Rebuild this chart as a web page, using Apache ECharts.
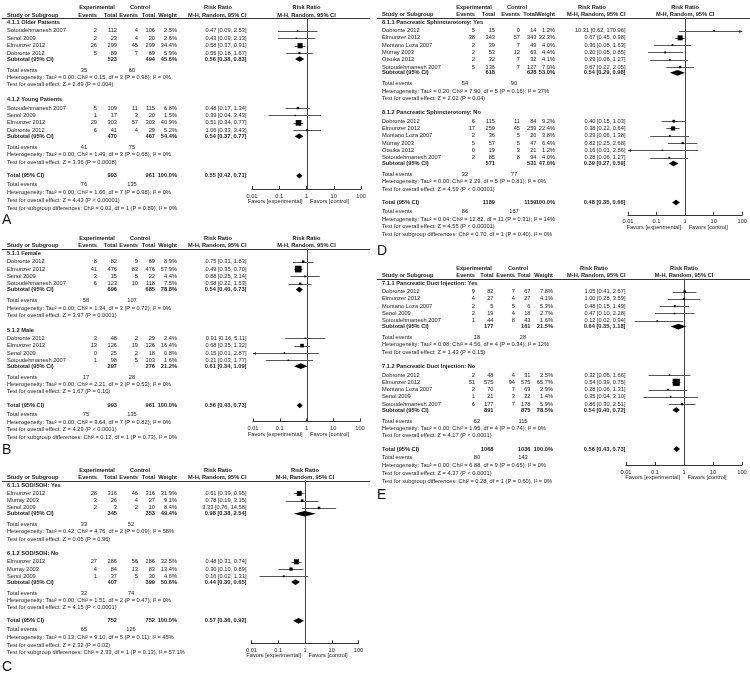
<!DOCTYPE html>
<html>
<head>
<meta charset="utf-8">
<script src="https://cdn.jsdelivr.net/npm/echarts@6.0.0/dist/echarts.min.js"></script>
<style>
  html, body { margin: 0; padding: 0; background: #fff; }
  #chart { width: 750px; height: 680px; }
</style>
</head>
<body>
<div id="chart"></div>
<script>
// study rows: name, exp events, exp total, ctl events, ctl total, weight %, RR, lower, upper
// subtotal: exp total, ctl total, weight %, RR, lower, upper

// ---- A: age ----
const olderRows = [
  ["Sotoudehmanesh 2007", 2, 112, 4, 106, 2.5, 0.47, 0.09, 2.53],
  ["Senol 2009", 2, 23, 4, 20, 2.6, 0.43, 0.09, 2.13],
  ["Elmunzer 2012", 26, 299, 45, 299, 34.4, 0.58, 0.37, 0.91],
  ["Dobronte 2012", 5, 89, 7, 69, 5.9, 0.55, 0.18, 1.67]
];
const olderSub = [523, 494, 45.6, 0.56, 0.38, 0.83];
const olderEvents = [35, 60];
const olderStats = ["Heterogeneity: Tau\u00b2 = 0.00; Chi\u00b2 = 0.15, df = 3 (P = 0.98); I\u00b2 = 0%", "Test for overall effect: Z = 2.89 (P = 0.004)"];
const youngRows = [
  ["Sotoudehmanesh 2007", 5, 109, 11, 115, 6.8, 0.48, 0.17, 1.34],
  ["Senol 2009", 1, 17, 3, 20, 1.5, 0.39, 0.04, 3.43],
  ["Elmunzer 2012", 29, 303, 57, 303, 40.9, 0.51, 0.34, 0.77],
  ["Dobronte 2012", 6, 41, 4, 29, 5.2, 1.06, 0.33, 3.43]
];
const youngSub = [470, 467, 54.4, 0.54, 0.37, 0.77];
const youngEvents = [41, 75];
const youngStats = ["Heterogeneity: Tau\u00b2 = 0.00; Chi\u00b2 = 1.49, df = 3 (P = 0.68); I\u00b2 = 0%", "Test for overall effect: Z = 3.36 (P = 0.0008)"];
const ageTotal = [993, 961, 100.0, 0.55, 0.42, 0.71];
const ageEvents = [76, 135];
const ageStats = ["Heterogeneity: Tau\u00b2 = 0.00; Chi\u00b2 = 1.66, df = 7 (P = 0.98); I\u00b2 = 0%", "Test for overall effect: Z = 4.43 (P < 0.00001)", "Test for subgroup differences: Chi\u00b2 = 0.02, df = 1 (P = 0.89), I\u00b2 = 0%"];

// ---- B: sex ----
const femaleRows = [
  ["Dobronte 2012", 8, 82, 9, 69, 8.9, 0.75, 0.31, 1.83],
  ["Elmunzer 2012", 41, 476, 83, 476, 57.9, 0.49, 0.35, 0.70],
  ["Senol 2009", 3, 15, 5, 22, 4.4, 0.88, 0.25, 3.14],
  ["Sotoudehmanesh 2007", 6, 123, 10, 118, 7.5, 0.58, 0.22, 1.53]
];
const femaleSub = [696, 685, 78.8, 0.54, 0.40, 0.73];
const femaleEvents = [58, 107];
const femaleStats = ["Heterogeneity: Tau\u00b2 = 0.00; Chi\u00b2 = 1.34, df = 3 (P = 0.72); I\u00b2 = 0%", "Test for overall effect: Z = 3.97 (P = 0.0001)"];
const maleRows = [
  ["Dobronte 2012", 3, 48, 2, 29, 2.4, 0.91, 0.16, 5.11],
  ["Elmunzer 2012", 13, 126, 19, 126, 16.4, 0.68, 0.35, 1.32],
  ["Senol 2009", 0, 25, 2, 18, 0.8, 0.15, 0.01, 2.87],
  ["Sotoudehmanesh 2007", 1, 98, 5, 103, 1.6, 0.21, 0.03, 1.77]
];
const maleSub = [297, 276, 21.2, 0.61, 0.34, 1.09];
const maleEvents = [17, 28];
const maleStats = ["Heterogeneity: Tau\u00b2 = 0.00; Chi\u00b2 = 2.21, df = 3 (P = 0.53); I\u00b2 = 0%", "Test for overall effect: Z = 1.67 (P = 0.10)"];
const sexTotal = [993, 961, 100.0, 0.56, 0.43, 0.73];
const sexEvents = [75, 135];
const sexStats = ["Heterogeneity: Tau\u00b2 = 0.00; Chi\u00b2 = 3.64, df = 7 (P = 0.82); I\u00b2 = 0%", "Test for overall effect: Z = 4.29 (P < 0.0001)", "Test for subgroup differences: Chi\u00b2 = 0.12, df = 1 (P = 0.73), I\u00b2 = 0%"];

// ---- C: SOD/SOH ----
const sodYesRows = [
  ["Elmunzer 2012", 28, 316, 46, 316, 31.9, 0.61, 0.39, 0.95],
  ["Murray 2003", 3, 26, 4, 27, 9.1, 0.78, 0.19, 3.15],
  ["Senol 2009", 2, 3, 2, 10, 8.4, 3.33, 0.76, 14.58]
];
const sodYesSub = [345, 353, 49.4, 0.98, 0.38, 2.54];
const sodYesEvents = [33, 52];
const sodYesStats = ["Heterogeneity: Tau\u00b2 = 0.42; Chi\u00b2 = 4.76, df = 2 (P = 0.09); I\u00b2 = 58%", "Test for overall effect: Z = 0.05 (P = 0.96)"];
const sodNoRows = [
  ["Elmunzer 2012", 27, 286, 56, 286, 32.5, 0.48, 0.31, 0.74],
  ["Murray 2003", 4, 84, 13, 83, 13.4, 0.30, 0.10, 0.89],
  ["Senol 2009", 1, 37, 5, 30, 4.6, 0.16, 0.02, 1.31]
];
const sodNoSub = [407, 399, 50.6, 0.44, 0.30, 0.65];
const sodNoEvents = [32, 74];
const sodNoStats = ["Heterogeneity: Tau\u00b2 = 0.00; Chi\u00b2 = 1.51, df = 2 (P = 0.47); I\u00b2 = 0%", "Test for overall effect: Z = 4.15 (P < 0.0001)"];
const sodTotal = [752, 752, 100.0, 0.57, 0.36, 0.92];
const sodEvents = [65, 126];
const sodStats = ["Heterogeneity: Tau\u00b2 = 0.13; Chi\u00b2 = 9.10, df = 5 (P = 0.11); I\u00b2 = 45%", "Test for overall effect: Z = 2.32 (P = 0.02)", "Test for subgroup differences: Chi\u00b2 = 2.33, df = 1 (P = 0.13), I\u00b2 = 57.1%"];

// ---- D: pancreatic sphincterotomy ----
const psYesRows = [
  ["Dobronte 2012", 5, 15, 0, 14, 1.2, 10.31, 0.62, 170.96],
  ["Elmunzer 2012", 38, 343, 57, 343, 32.3, 0.67, 0.45, 0.98],
  ["Montano Loza 2007", 2, 39, 7, 49, 4.0, 0.36, 0.08, 1.63],
  ["Murray 2003", 2, 53, 12, 63, 4.4, 0.20, 0.05, 0.85],
  ["Otsuka 2012", 2, 32, 7, 32, 4.1, 0.29, 0.06, 1.27],
  ["Sotoudehmanesh 2007", 5, 136, 7, 127, 7.0, 0.67, 0.22, 2.05]
];
const psYesSub = [618, 628, 53.0, 0.54, 0.29, 0.98];
const psYesEvents = [54, 90];
const psYesStats = ["Heterogeneity: Tau\u00b2 = 0.20; Chi\u00b2 = 7.90, df = 5 (P = 0.16); I\u00b2 = 37%", "Test for overall effect: Z = 2.02 (P = 0.04)"];
const psNoRows = [
  ["Dobronte 2012", 6, 115, 11, 84, 9.2, 0.40, 0.15, 1.03],
  ["Elmunzer 2012", 17, 259, 45, 259, 22.4, 0.38, 0.22, 0.64],
  ["Montano Loza 2007", 2, 36, 5, 26, 3.8, 0.29, 0.06, 1.38],
  ["Murray 2003", 5, 57, 5, 47, 6.4, 0.82, 0.25, 2.68],
  ["Otsuka 2012", 0, 19, 3, 21, 1.2, 0.16, 0.01, 2.86],
  ["Sotoudehmanesh 2007", 2, 85, 8, 94, 4.0, 0.28, 0.06, 1.27]
];
const psNoSub = [571, 531, 47.0, 0.39, 0.27, 0.59];
const psNoEvents = [32, 77];
const psNoStats = ["Heterogeneity: Tau\u00b2 = 0.00; Chi\u00b2 = 2.29, df = 5 (P = 0.81); I\u00b2 = 0%", "Test for overall effect: Z = 4.59 (P < 0.00001)"];
const psTotal = [1189, 1159, 100.0, 0.48, 0.35, 0.66];
const psEvents = [86, 167];
const psStats = ["Heterogeneity: Tau\u00b2 = 0.04; Chi\u00b2 = 12.82, df = 11 (P = 0.31); I\u00b2 = 14%", "Test for overall effect: Z = 4.55 (P < 0.00001)", "Test for subgroup differences: Chi\u00b2 = 0.70, df = 1 (P = 0.40), I\u00b2 = 0%"];

// ---- E: pancreatic duct injection ----
const pdiYesRows = [
  ["Dobronte 2012", 9, 82, 7, 67, 7.8, 1.05, 0.41, 2.67],
  ["Elmunzer 2012", 4, 27, 4, 27, 4.1, 1.00, 0.28, 3.59],
  ["Montano Loza 2007", 2, 5, 5, 6, 5.3, 0.48, 0.15, 1.49],
  ["Senol 2009", 2, 19, 4, 18, 2.7, 0.47, 0.10, 2.28],
  ["Sotoudehmanesh 2007", 1, 44, 8, 43, 1.6, 0.12, 0.02, 0.94]
];
const pdiYesSub = [177, 161, 21.5, 0.64, 0.35, 1.18];
const pdiYesEvents = [18, 28];
const pdiYesStats = ["Heterogeneity: Tau\u00b2 = 0.08; Chi\u00b2 = 4.56, df = 4 (P = 0.34); I\u00b2 = 12%", "Test for overall effect: Z = 1.43 (P = 0.15)"];
const pdiNoRows = [
  ["Dobronte 2012", 2, 48, 4, 31, 2.5, 0.32, 0.06, 1.66],
  ["Elmunzer 2012", 51, 575, 94, 575, 65.7, 0.54, 0.39, 0.75],
  ["Montano Loza 2007", 2, 70, 7, 69, 2.9, 0.28, 0.06, 1.31],
  ["Senol 2009", 1, 21, 3, 22, 1.4, 0.35, 0.04, 3.10],
  ["Sotoudehmanesh 2007", 6, 177, 7, 178, 5.9, 0.86, 0.30, 2.51]
];
const pdiNoSub = [891, 875, 78.5, 0.54, 0.40, 0.72];
const pdiNoEvents = [62, 115];
const pdiNoStats = ["Heterogeneity: Tau\u00b2 = 0.00; Chi\u00b2 = 1.95, df = 4 (P = 0.74); I\u00b2 = 0%", "Test for overall effect: Z = 4.17 (P < 0.0001)"];
const pdiTotal = [1068, 1036, 100.0, 0.56, 0.43, 0.73];
const pdiEvents = [80, 143];
const pdiStats = ["Heterogeneity: Tau\u00b2 = 0.00; Chi\u00b2 = 6.88, df = 9 (P = 0.65); I\u00b2 = 0%", "Test for overall effect: Z = 4.37 (P < 0.0001)", "Test for subgroup differences: Chi\u00b2 = 0.28, df = 1 (P = 0.60), I\u00b2 = 0%"];

const tickVals = [0.01, 0.1, 1, 10, 100];
const tickLabels = ["0.01", "0.1", "1", "10", "100"];

// ---- layout ----
const FAMILY = '"Liberation Sans", Arial, sans-serif';
const FONT_PX = 5.7;
const INK = "#1a1a1a";
const SEP = 1.45; // row of the header rule

// columns: name, exp events, exp total, ctl events, ctl total, weight, risk ratio (px)
const colsLeft = [7, 97, 117, 138, 155, 177, 246.5];
const panels = [
  { letter: "A", top: 7, row: 7.4, axisRow: 24.6, x001: 252, x100: 361, cols: colsLeft, hdr: [97, 140, 218], ev: [84, 132], rule: [2, 370], letterX: 2, letterGap: 1.65,
    groups: [["4.1.1 Older Patients", olderRows, olderSub, olderEvents, olderStats], ["4.1.2 Young Patients", youngRows, youngSub, youngEvents, youngStats]],
    total: ageTotal, totalEvents: ageEvents, totalStats: ageStats },
  { letter: "B", top: 238, row: 7.34, axisRow: 25.0, x001: 253, x100: 360, cols: colsLeft, hdr: [97, 140, 218], ev: [86, 132], rule: [2, 370], letterX: 2, letterGap: 1.7,
    groups: [["5.1.1 Female", femaleRows, femaleSub, femaleEvents, femaleStats], ["5.1.2 Male", maleRows, maleSub, maleEvents, maleStats]],
    total: sexTotal, totalEvents: sexEvents, totalStats: sexStats },
  { letter: "C", top: 470, row: 7.25, axisRow: 23.9, x001: 251.5, x100: 358.5, cols: colsLeft, hdr: [97, 140, 218], ev: [84, 131], rule: [2, 370], letterX: 2, letterGap: 2.05,
    groups: [["6.1.1 SOD/SOH: Yes", sodYesRows, sodYesSub, sodYesEvents, sodYesStats], ["6.1.2 SOD/SOH: No", sodNoRows, sodNoSub, sodNoEvents, sodNoStats]],
    total: sodTotal, totalEvents: sodEvents, totalStats: sodStats },
  { letter: "D", top: 7, row: 7.29, axisRow: 28.5, x001: 628, x100: 743, cols: [382, 475, 495, 520, 536.5, 555, 625.5], hdr: [474, 517, 592], ev: [90, 139].map(v => v + 375), rule: [377, 750], letterX: 377, letterGap: 2.3,
    groups: [["8.1.1 Pancreatic Sphincterotomy: Yes", psYesRows, psYesSub, psYesEvents, psYesStats], ["8.1.2 Pancreatic Sphincterotomy: No", psNoRows, psNoSub, psNoEvents, psNoStats]],
    total: psTotal, totalEvents: psEvents, totalStats: psStats },
  { letter: "E", top: 268, row: 7.3, axisRow: 27.0, x001: 626, x100: 742, cols: [382, 475, 493.5, 515, 530.5, 553, 625.5], hdr: [474, 518, 594], ev: [102, 148].map(v => v + 375), rule: [377, 750], letterX: 377, letterGap: 1.9,
    groups: [["7.1.1 Pancreatic Duct Injection: Yes", pdiYesRows, pdiYesSub, pdiYesEvents, pdiYesStats], ["7.1.2 Pancreatic Duct Injection: No", pdiNoRows, pdiNoSub, pdiNoEvents, pdiNoStats]],
    total: pdiTotal, totalEvents: pdiEvents, totalStats: pdiStats }
];

// row positions of every printed line, in row units
function buildLines(p) {
  const lines = [{ y: 0, kind: "head1" }, { y: 1.08, kind: "head2" }];
  let y = 2.1;
  p.groups.forEach((g, gi) => {
    if (gi > 0) y += 2;
    lines.push({ y: y, kind: "title", text: g[0] });
    y += 1.13;
    g[1].forEach((r, i) => {
      if (i > 0) y += 1;
      lines.push({ y: y, kind: "study", r: r });
    });
    y += 0.8;
    lines.push({ y: y, kind: "sub", r: g[2] });
    y += 1.5;
    lines.push({ y: y, kind: "events", ev: g[3] });
    y += 1;
    lines.push({ y: y, kind: "note", text: g[4][0] });
    y += 1;
    lines.push({ y: y, kind: "note", text: g[4][1] });
  });
  y += 1.85;
  lines.push({ y: y, kind: "total", r: p.total });
  y += 1.2;
  lines.push({ y: y, kind: "events", ev: p.totalEvents });
  y += 1.07;
  lines.push({ y: y, kind: "note", text: p.totalStats[0] });
  y += 1.05;
  lines.push({ y: y, kind: "note", text: p.totalStats[1] });
  y += 1.07;
  lines.push({ y: y, kind: "note", text: p.totalStats[2] });
  lines.push({ y: y + p.letterGap, kind: "letter" });
  lines.push({ y: p.axisRow, kind: "favors" });
  return lines;
}

function fmtRR(rr, lo, hi) {
  return rr.toFixed(2) + " [" + lo.toFixed(2) + ", " + hi.toFixed(2) + "]";
}

function txt(x, y, s, align, bold, size) {
  return {
    type: "text",
    style: {
      text: s, x: x, y: y,
      textAlign: align, textVerticalAlign: "middle",
      fill: INK,
      font: (bold ? "bold " : "") + (size || FONT_PX) + "px " + FAMILY
    }
  };
}

function textRenderer(p, lines) {
  const c = p.cols;
  return function (params, api) {
    const l = lines[params.dataIndex];
    const yy = api.coord([1, api.value(1)])[1];
    const x1 = api.coord([1, api.value(1)])[0];
    const kids = [];
    if (l.kind === "head1") {
      kids.push(txt(p.hdr[0], yy, "Experimental", "center", true));
      kids.push(txt(p.hdr[1], yy, "Control", "center", true));
      kids.push(txt(p.hdr[2], yy, "Risk Ratio", "center", true));
      kids.push(txt(x1, yy, "Risk Ratio", "center", true));
    } else if (l.kind === "head2") {
      kids.push(txt(c[0], yy, "Study or Subgroup", "left", true));
      kids.push(txt(c[1], yy, "Events", "right", true));
      kids.push(txt(c[2], yy, "Total", "right", true));
      kids.push(txt(c[3], yy, "Events", "right", true));
      kids.push(txt(c[4], yy, "Total", "right", true));
      kids.push(txt(c[5], yy, "Weight", "right", true));
      kids.push(txt(c[6], yy, "M-H, Random, 95% CI", "right", true));
      kids.push(txt(x1, yy, "M-H, Random, 95% CI", "center", true));
      const ry = Math.round(api.coord([1, SEP])[1]) + 0.5;
      kids.push({ type: "line", shape: { x1: p.rule[0], y1: ry, x2: p.rule[1], y2: ry }, style: { stroke: "#333", lineWidth: 1 } });
    } else if (l.kind === "title") {
      kids.push(txt(c[0], yy, l.text, "left", true));
    } else if (l.kind === "study") {
      const r = l.r;
      kids.push(txt(c[0], yy, r[0], "left"));
      kids.push(txt(c[1], yy, String(r[1]), "right"));
      kids.push(txt(c[2], yy, String(r[2]), "right"));
      kids.push(txt(c[3], yy, String(r[3]), "right"));
      kids.push(txt(c[4], yy, String(r[4]), "right"));
      kids.push(txt(c[5], yy, r[5].toFixed(1) + "%", "right"));
      kids.push(txt(c[6], yy, fmtRR(r[6], r[7], r[8]), "right"));
    } else if (l.kind === "sub" || l.kind === "total") {
      const r = l.r;
      kids.push(txt(c[0], yy, l.kind === "sub" ? "Subtotal (95% CI)" : "Total (95% CI)", "left", true));
      kids.push(txt(c[2], yy, String(r[0]), "right", true));
      kids.push(txt(c[4], yy, String(r[1]), "right", true));
      kids.push(txt(c[5], yy, r[2].toFixed(1) + "%", "right", true));
      kids.push(txt(c[6], yy, fmtRR(r[3], r[4], r[5]), "right", true));
    } else if (l.kind === "events") {
      kids.push(txt(c[0], yy, "Total events", "left"));
      kids.push(txt(p.ev[0], yy, String(l.ev[0]), "center"));
      kids.push(txt(p.ev[1], yy, String(l.ev[1]), "center"));
    } else if (l.kind === "note") {
      kids.push(txt(c[0], yy, l.text, "left"));
    } else if (l.kind === "favors") {
      kids.push(txt(x1 - 4, yy + 12.5, "Favors [experimental]", "right"));
      kids.push(txt(x1 + 3.5, yy + 12.5, "Favors [control]", "left"));
    } else if (l.kind === "letter") {
      kids.push({ type: "text", style: { text: p.letter, x: p.letterX, y: yy, textAlign: "left", textVerticalAlign: "middle", fill: "#111", font: "14px " + FAMILY } });
    }
    return { type: "group", children: kids };
  };
}

// marks: [rr, row, lo, hi, weight, kind]  kind 0 study, 1 diamond, 2 reference line
function markRenderer(p) {
  const lo = tickVals[0], hi = tickVals[tickVals.length - 1];
  return function (params, api) {
    const kind = api.value(5);
    const row = api.value(1);
    if (kind === 2) {
      const a = api.coord([1, SEP]), b = api.coord([1, p.axisRow]);
      const x = Math.round(a[0]) + 0.5;
      return { type: "line", shape: { x1: x, y1: a[1], x2: x, y2: b[1] }, style: { stroke: "#444", lineWidth: 1 } };
    }
    const c = api.coord([api.value(0), row]);
    const l = api.coord([Math.max(api.value(2), lo), row]);
    const h = api.coord([Math.min(api.value(3), hi), row]);
    if (kind === 1) {
      const d = 2.8;
      return { type: "polygon", shape: { points: [[l[0], c[1]], [c[0], c[1] - d], [h[0], c[1]], [c[0], c[1] + d]] }, style: { fill: "#000" } };
    }
    const y = Math.round(c[1]) + 0.5;
    const kids = [{ type: "line", shape: { x1: l[0], y1: y, x2: h[0], y2: y }, style: { stroke: "#555", lineWidth: 1 } }];
    if (api.value(2) <= lo) {
      kids.push({ type: "polygon", shape: { points: [[l[0], y], [l[0] + 3, y - 1.6], [l[0] + 3, y + 1.6]] }, style: { fill: "#333" } });
    }
    if (api.value(3) >= hi) {
      kids.push({ type: "polygon", shape: { points: [[h[0], y], [h[0] - 3, y - 1.6], [h[0] - 3, y + 1.6]] }, style: { fill: "#333" } });
    }
    const s = Math.max(1.5, 0.88 * Math.sqrt(api.value(4)));
    kids.push({ type: "rect", shape: { x: c[0] - s / 2, y: c[1] - s / 2, width: s, height: s }, style: { fill: "#000" } });
    return { type: "group", children: kids };
  };
}

const grids = [], xAxes = [], yAxes = [], series = [];
panels.forEach((p, i) => {
  const lines = buildLines(p);
  grids.push({ left: p.x001, width: p.x100 - p.x001, top: p.top + SEP * p.row, height: (p.axisRow - SEP) * p.row });
  xAxes.push({
    type: "log", logBase: 10, gridIndex: i, min: tickVals[0], max: tickVals[tickVals.length - 1],
    axisLine: { lineStyle: { color: "#333", width: 1 } },
    axisTick: { inside: true, length: 3, lineStyle: { color: "#333" } },
    axisLabel: { fontSize: FONT_PX, color: INK, fontFamily: FAMILY, margin: 4, formatter: v => tickLabels[Math.round(Math.log10(v)) + 2] },
    splitLine: { show: false }, minorTick: { show: false }
  });
  yAxes.push({ type: "value", gridIndex: i, min: SEP, max: p.axisRow, inverse: true, show: false });

  const marks = [[1, 0, 1, 1, 0, 2]];
  lines.forEach(l => {
    if (l.kind === "study") marks.push([l.r[6], l.y, l.r[7], l.r[8], l.r[5], 0]);
    if (l.kind === "sub" || l.kind === "total") marks.push([l.r[3], l.y, l.r[4], l.r[5], 0, 1]);
  });
  series.push({
    type: "custom", xAxisIndex: i, yAxisIndex: i, silent: true, clip: false,
    renderItem: textRenderer(p, lines),
    data: lines.map(l => [1, l.y])
  });
  series.push({
    type: "custom", xAxisIndex: i, yAxisIndex: i, silent: true, clip: false,
    renderItem: markRenderer(p),
    data: marks
  });
});

const chart = echarts.init(document.getElementById("chart"));
chart.setOption({
  backgroundColor: "#fff",
  animation: false,
  grid: grids,
  xAxis: xAxes,
  yAxis: yAxes,
  series: series
});
</script>
</body>
</html>
